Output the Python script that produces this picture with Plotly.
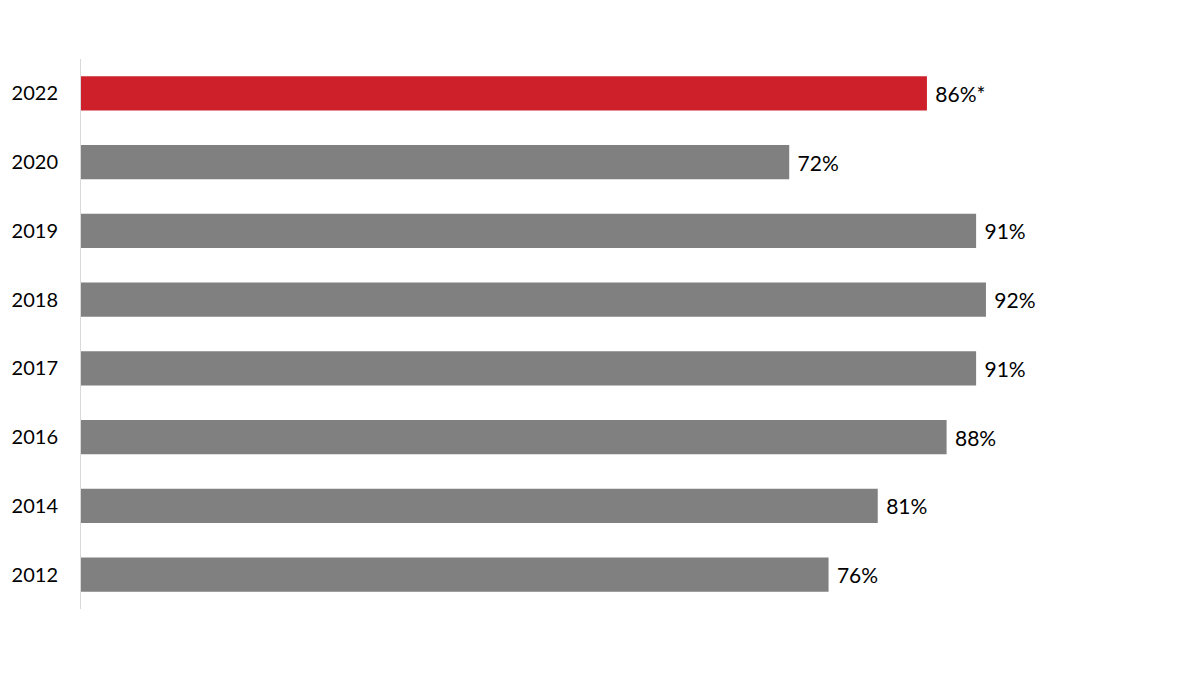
import plotly.graph_objects as go

years = ["2022", "2020", "2019", "2018", "2017", "2016", "2014", "2012"]
values = [86, 72, 91, 92, 91, 88, 81, 76]
labels = ["86%*", "72%", "91%", "92%", "91%", "88%", "81%", "76%"]
colors = ["#CE202A"] + ["#808080"] * 7

fig = go.Figure(go.Bar(
    y=years, x=values, orientation="h",
    marker=dict(color=colors, line=dict(width=0)),
    text=labels, texttemplate=" %{text}", textposition="outside", cliponaxis=False,
    textfont=dict(family="Lato", size=21, color="#000000"),
    hoverinfo="skip",
))

fig.update_layout(
    width=1200, height=675,
    paper_bgcolor="white", plot_bgcolor="white",
    margin=dict(l=78, r=37, t=59, b=66),
    bargap=0.5,
    showlegend=False,
    font=dict(family="Lato", size=20, color="#000000"),
    xaxis=dict(range=[0, 110], visible=False, showgrid=False, zeroline=False),
    yaxis=dict(
        type="category", autorange="reversed",
        showline=True, linecolor="#D9D9D9", linewidth=1,
        ticks="", ticklabelstandoff=18, showgrid=False,
        tickfont=dict(family="Lato", size=20, color="#000000"),
    ),
)

fig.write_html("out.html")
